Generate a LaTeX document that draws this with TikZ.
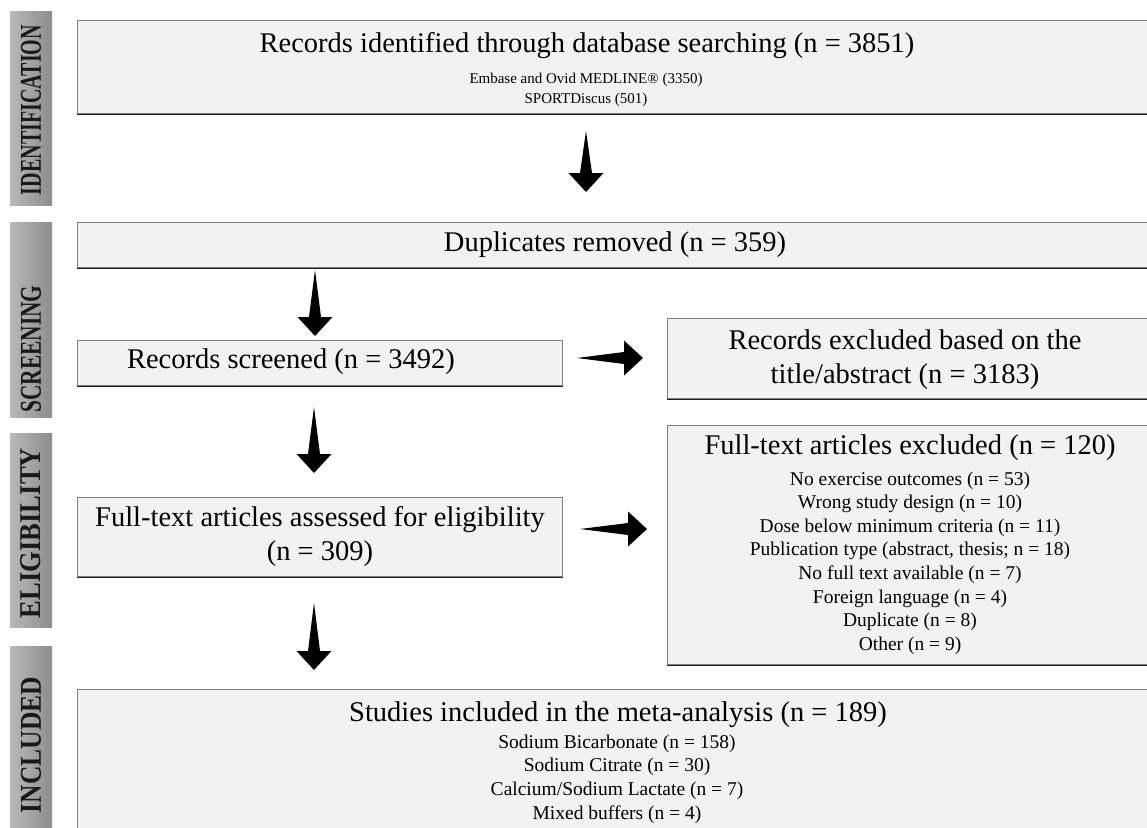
\documentclass[tikz,border=0pt]{standalone}
\usepackage{fontspec}
\usepackage{graphicx}
\setmainfont{Liberation Serif}
\usetikzlibrary{calc,positioning}

\definecolor{boxfill}{RGB}{242,242,242}
\definecolor{boxline}{RGB}{125,125,125}
\definecolor{boxedge}{RGB}{30,30,30}
\definecolor{barlight}{RGB}{185,185,185}
\definecolor{bardark}{RGB}{140,140,140}

\tikzset{
  box/.style={draw=boxline, fill=boxfill, line width=1.2pt, inner sep=0pt, anchor=north west},
  bigtxt/.style={inner sep=0pt, font=\fontsize{28.5}{34}\selectfont, align=center},
  smalltxt/.style={inner sep=0pt, font=\fontsize{19.5}{23.6}\selectfont, align=center},
  tinytxt/.style={inner sep=0pt, font=\fontsize{15}{20}\selectfont, align=center},
  sidetxt/.style={inner sep=0pt, rotate=90, text=black!90}
}

% tapered block arrow from tail #1 to tip #2
\newcommand{\fatarrow}[2]{%
  \coordinate (hb) at ($(#2)!19pt!(#1)$);
  \fill[black] (#1) -- ($(hb)!6pt!90:(#2)$) -- ($(hb)!17.5pt!90:(#2)$) -- (#2)
    -- ($(hb)!17.5pt!-90:(#2)$) -- ($(hb)!6pt!-90:(#2)$) -- cycle;}
\newcommand{\sidelabel}[2]{\resizebox{#1pt}{20pt}{\bfseries #2}}

\begin{document}
\begin{tikzpicture}[x=1pt, y=-1pt]
    \useasboundingbox (0,0) rectangle (1147,827);
    \clip (0,0) rectangle (1147,827);

    % phase bars
    \shade[left color=barlight, right color=bardark] (10,11) rectangle (52,205);
    \shade[left color=barlight, right color=bardark] (10,222) rectangle (52,417);
    \shade[left color=barlight, right color=bardark] (10,433) rectangle (52,627);
    \shade[left color=barlight, right color=bardark] (10,646) rectangle (52,840);
    \node[sidetxt] (identL) at (31,110) {\sidelabel{170}{IDENTIFICATION}};
    \node[sidetxt] (screenL) at (31,349) {\sidelabel{127}{SCREENING}};
    \node[sidetxt] (eligL) at (31,533) {\sidelabel{170}{ELIGIBILITY}};
    \node[sidetxt] (inclL) at (31,745) {\sidelabel{136}{INCLUDED}};

    % boxes
    \node[box, minimum width=1090pt, minimum height=93pt] (ident) at (77,20) {};
    \node[box, minimum width=1090pt, minimum height=45pt] (dup) at (77,222) {};
    \node[box, minimum width=485pt, minimum height=45pt] (screen) at (77,340) {};
    \node[box, minimum width=500pt, minimum height=80pt] (exclA) at (667,318) {};
    \node[box, minimum width=485pt, minimum height=79pt] (full) at (77,497) {};
    \node[box, minimum width=500pt, minimum height=239pt] (exclB) at (667,425) {};
    \node[box, minimum width=1090pt, minimum height=160pt] (incl) at (77,689) {};
    \foreach \b in {ident,dup,screen,exclA,full,exclB}
        \draw[boxedge, line width=1.2pt] (\b.south west) -- (\b.south east);

    % texts
    \node[bigtxt] (identT) at (587,46) {Records identified through database searching (n = 3851)};
    \node[tinytxt] (identS) at (586,90) {Embase and Ovid MEDLINE® (3350)\\SPORTDiscus (501)};
    \node[bigtxt] (dupT) at (615,245) {Duplicates removed (n = 359)};
    \node[bigtxt] (screenT) at (291,362) {Records screened (n = 3492)};
    \node[bigtxt] (exclAT) at (905,360) {Records excluded based on the\\title/abstract (n = 3183)};
    \node[bigtxt] (fullT) at (320,536) {Full-text articles assessed for eligibility\\(n = 309)};
    \node[bigtxt] (exclBT) at (910,448) {Full-text articles excluded (n = 120)};
    \node[smalltxt] (exclBS) at (910,563) {No exercise outcomes (n = 53)\\Wrong study design (n = 10)\\Dose below minimum criteria (n = 11)\\Publication type (abstract, thesis; n = 18)\\No full text available (n = 7)\\Foreign language (n = 4)\\Duplicate (n = 8)\\Other (n = 9)};
    \node[bigtxt] (inclT) at (618,715) {Studies included in the meta-analysis (n = 189)};
    \node[smalltxt] (inclS) at (617,779) {Sodium Bicarbonate (n = 158)\\Sodium Citrate (n = 30)\\Calcium/Sodium Lactate (n = 7)\\Mixed buffers (n = 4)};

    % arrows
    \coordinate (a1s) at (586,131);  \coordinate (a1e) at (586,192);
    \coordinate (a2s) at (315,270);  \coordinate (a2e) at (315,336);
    \coordinate (a3s) at (314,407);  \coordinate (a3e) at (314,473);
    \coordinate (a4s) at (314,603);  \coordinate (a4e) at (314,670);
    \coordinate (a5s) at (577,358);  \coordinate (a5e) at (643,358);
    \coordinate (a6s) at (580,529);  \coordinate (a6e) at (647,529);
    \fatarrow{a1s}{a1e}
    \fatarrow{a2s}{a2e}
    \fatarrow{a3s}{a3e}
    \fatarrow{a4s}{a4e}
    \fatarrow{a5s}{a5e}
    \fatarrow{a6s}{a6e}
\end{tikzpicture}
\end{document}
